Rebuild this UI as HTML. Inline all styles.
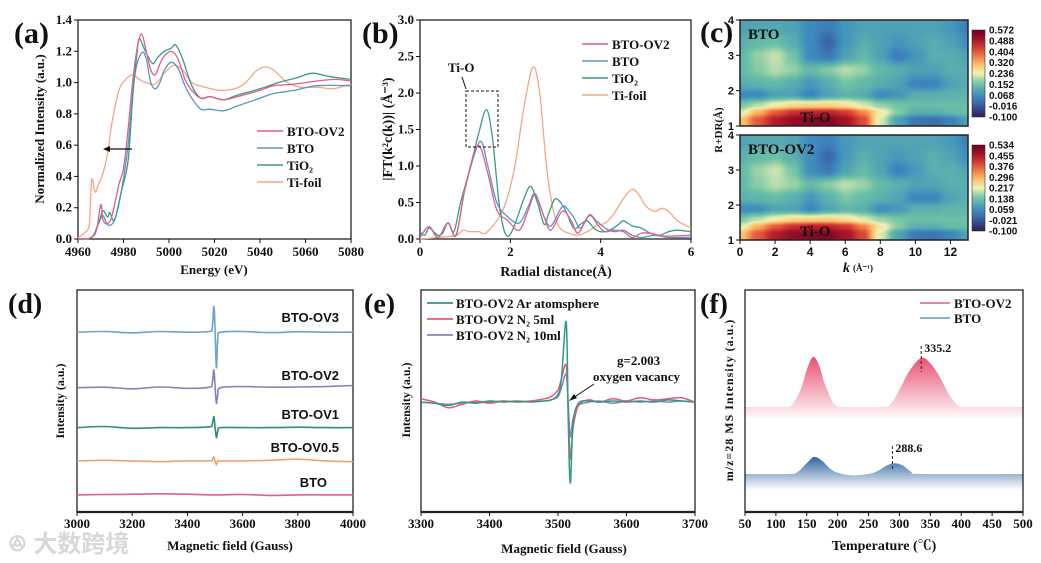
<!DOCTYPE html>
<html><head><meta charset="utf-8"><style>
html,body{margin:0;padding:0;background:#fff;}
#wrap{position:relative;width:1041px;height:563px;overflow:hidden;}
svg{position:absolute;left:0;top:0;}
canvas{position:absolute;}
text{font-family:"Liberation Serif","Noto Serif CJK SC",serif;font-weight:bold;fill:#111;}
</style></head><body>
<div id="wrap">
<svg id="s" width="1041" height="563"></svg>
<canvas id="hm1" width="228" height="106" style="left:740px;top:20px"></canvas>
<canvas id="hm2" width="228" height="105" style="left:740px;top:135px"></canvas>
<svg id="s2" width="1041" height="563"></svg>
</div>
<script>
// ---------- DATA ----------
// (a) XANES
const aOV2E=[4960,4965,4968,4970,4971,4973,4975,4978,4980,4982,4984,4986,4988,4990,4992,4994,4996,4998,5001,5004,5007,5010,5014,5018,5024,5030,5040,5046,5055,5065,5073,5080];
const aOV2V=[0,0.005,0.05,0.22,0.12,0.1,0.15,0.35,0.45,0.7,1.0,1.22,1.31,1.2,1.08,1.05,1.12,1.17,1.2,1.15,1.02,0.95,0.9,0.91,0.89,0.91,0.95,0.98,0.99,1.01,1.02,1.01];
const aBTOE=[4960,4966,4969,4971,4973,4976,4979,4982,4985,4988,4990,4992,4994,4996,4998,5001,5004,5007,5010,5014,5018,5024,5030,5040,5046,5055,5065,5080];
const aBTOV=[0,0.01,0.1,0.15,0.09,0.12,0.3,0.6,1.05,1.19,1.15,1.0,0.96,1.0,1.08,1.13,1.09,0.98,0.9,0.83,0.83,0.82,0.85,0.9,0.93,0.95,0.98,0.98];
const aTiO2E=[4960,4966,4969,4971,4973,4974,4976,4979,4982,4984,4986,4987,4989,4991,4993,4995,4998,5001,5003,5006,5010,5014,5018,5024,5030,5040,5048,5056,5063,5070,5080];
const aTiO2V=[0,0.01,0.1,0.18,0.14,0.17,0.12,0.3,0.5,0.9,1.2,1.28,1.22,1.16,1.12,1.16,1.2,1.22,1.24,1.15,0.98,0.9,0.91,0.89,0.92,0.96,1.0,1.03,1.06,1.04,1.02];
const aFoilE=[4960,4963,4965,4966,4967.5,4969,4971,4973,4975,4978,4981,4984,4987,4990,4994,4998,5002,5006,5010,5016,5024,5032,5038,5042,5046,5052,5058,5066,5072,5080];
const aFoilV=[0.01,0.04,0.1,0.38,0.3,0.35,0.42,0.55,0.75,0.95,1.02,1.05,1.02,1.0,0.99,1.06,1.11,1.08,1.0,0.97,0.95,0.98,1.07,1.1,1.08,1.0,0.97,0.97,0.96,0.99];
const aXTicks=[4960,4980,5000,5020,5040,5060,5080];
const aYTicks=[0,0.2,0.4,0.6,0.8,1.0,1.2,1.4];
// (b) FT-EXAFS
const bTiO2R=[0,0.1,0.2,0.3,0.4,0.5,0.62,0.75,0.9,1.1,1.3,1.47,1.6,1.75,1.87,1.98,2.1,2.3,2.45,2.6,2.75,2.85,3.0,3.2,3.4,3.55,3.7,3.85,4.0,4.2,4.4,4.5,4.7,4.9,5.1,5.3,5.5,5.7,6.0];
const bTiO2V=[0.1,0.05,0.15,0.1,0.05,0.08,0.22,0.1,0.5,0.95,1.45,1.77,1.4,0.5,0.1,0.05,0.2,0.55,0.72,0.5,0.2,0.35,0.55,0.42,0.15,0.2,0.25,0.15,0.1,0.12,0.2,0.25,0.18,0.15,0.08,0.05,0.1,0.12,0.1];
const bBTOR=[0,0.2,0.4,0.62,0.8,1.0,1.32,1.5,1.7,1.95,2.2,2.4,2.55,2.75,2.9,3.1,3.2,3.4,3.55,3.75,3.9,4.1,4.3,4.5,4.7,4.9,5.2,5.5,6];
const bBTOV=[0.02,0.17,0.02,0.22,0.05,0.7,1.33,1.0,0.5,0.3,0.22,0.45,0.62,0.3,0.18,0.4,0.45,0.3,0.15,0.33,0.25,0.15,0.1,0.12,0.05,0.02,0.05,0.02,0.02];
const bOV2R=[0,0.2,0.4,0.62,0.8,1.0,1.28,1.5,1.7,1.95,2.2,2.4,2.55,2.75,2.9,3.15,3.35,3.5,3.75,3.95,4.1,4.3,4.5,4.7,4.9,5.1,5.4,6];
const bOV2V=[0.02,0.17,0.02,0.22,0.05,0.7,1.28,0.9,0.4,0.25,0.12,0.4,0.6,0.3,0.12,0.38,0.25,0.08,0.32,0.18,0.1,0.12,0.1,0.02,0.08,0.08,0.04,0.05];
const bFoilR=[0,0.4,0.8,0.95,1.1,1.3,1.45,1.7,1.9,2.1,2.3,2.5,2.65,2.8,2.95,3.1,3.3,3.5,3.7,3.9,4.1,4.3,4.5,4.7,4.85,5.0,5.2,5.35,5.5,5.7,6.0];
const bFoilV=[0,0.02,0.05,0.12,0.1,0.1,0.08,0.25,0.5,1.0,1.8,2.35,2.0,1.0,0.4,0.15,0.08,0.05,0.1,0.18,0.22,0.35,0.55,0.68,0.6,0.45,0.38,0.42,0.38,0.25,0.15];
const bXTicks=[0,2,4,6];
const bYTicks=[0,0.5,1.0,1.5,2.0,2.5,3.0];
// (c) wavelet transform grid: rows R, cols k
const cR=[1.2,1.4,1.6,1.9,2.2,2.6,3.0,3.4,3.8];
const cK=[0,1,2,3,4,5,6,7,8,9,10,11,12,13];
const cGrid=[
[0.30,0.40,0.48,0.52,0.54,0.54,0.50,0.42,0.22,0.10,0.03,0.02,0.05,0.10],
[0.22,0.32,0.40,0.45,0.47,0.47,0.44,0.36,0.25,0.17,0.12,0.12,0.14,0.15],
[0.16,0.20,0.24,0.27,0.28,0.28,0.26,0.22,0.18,0.16,0.15,0.15,0.15,0.15],
[0.06,0.06,0.10,0.10,0.05,0.10,0.13,0.12,0.06,0.08,0.12,0.12,0.13,0.13],
[0.12,0.13,0.14,0.12,0.08,0.12,0.16,0.14,0.12,0.10,0.05,0.05,0.10,0.12],
[0.14,0.17,0.20,0.18,0.14,0.17,0.20,0.18,0.14,0.12,0.10,0.10,0.12,0.12],
[0.14,0.18,0.21,0.16,0.06,0.03,0.10,0.14,0.10,0.04,0.08,0.12,0.12,0.10],
[0.12,0.14,0.15,0.12,0.06,0.00,0.08,0.12,0.10,0.08,0.10,0.12,0.10,0.06],
[0.10,0.11,0.11,0.10,0.06,0.04,0.08,0.10,0.10,0.10,0.10,0.10,0.08,0.04]];
const cBar1=["0.572","0.488","0.404","0.320","0.236","0.152","0.068","-0.016","-0.100"];
const cBar2=["0.534","0.455","0.376","0.296","0.217","0.138","0.059","-0.021","-0.100"];
const cXTicks=[0,2,4,6,8,10,12];
const cYTicks=[1,2,3,4];
// (d) EPR: field samples and signal per sample
const dField=[3000,3100,3200,3300,3400,3480,3490,3496,3500,3505,3510,3520,3600,3700,3800,3900,4000];
const dNames=["BTO-OV3","BTO-OV2","BTO-OV1","BTO-OV0.5","BTO"];
const dBase=[81,56,38,23,7.7];
const dOV3=[0,0.3,-0.3,0.3,0,0.3,2,11.7,2,-16,-3,0,0.3,-0.2,0.2,0,0];
const dOV2=[0,0.2,-0.5,0.3,-0.3,0.2,2,8,1,-7,-3,0,0.5,0.2,0.3,0.5,1];
const dOV1=[0,0.5,-0.3,0,0,0.4,1.5,5,0.5,-4.5,-1.5,0,0,0,0.2,0,0];
const dOV05=[0,0.3,0,-0.3,0,0,0.5,1.8,0,-1.8,0,0,0,0.3,0.8,0,-0.3];
const dBTO=[0,0.2,0.3,0.5,0.3,0,0,0,0,0,0,0,0.2,-0.2,0,0,0];
const dXTicks=[3000,3200,3400,3600,3800,4000];
// (e) EPR conditions
const eField=[3300,3320,3340,3360,3380,3400,3420,3440,3460,3480,3490,3500,3505,3512,3515,3518,3522,3530,3545,3560,3580,3600,3620,3640,3660,3680,3700];
const eAr=[49.5,49,48,49.5,49,50,49.5,50,49.5,50,50.5,53,60,85.6,40,13,40,49,50,49.5,50,49.5,50,49.5,50.5,50,49.5];
const eN5=[51,49.5,47,48.5,50,49,50,49.5,50,51,52,55,60,66,45,24,38,48,50.5,49.5,51,50,51.5,50.5,51,51.5,49.5];
const eN10=[49.5,49,48.5,49,49.5,49.5,50,49.5,50,50,50.5,52,56,62,48,34,42,48,49.5,50,49,50,49.5,50,49.5,50,49.5];
const eXTicks=[3300,3400,3500,3600,3700];
// (f) TPD
const fOV2T=[50,110,125,140,150,160,170,180,195,210,270,285,300,315,335,350,365,380,395,410,500];
const fOV2V=[47.3,47.3,48,55,64,69.8,66,57,48.5,47.3,47.3,48.5,55,63,69.4,67,61,53,48,47.3,47.3];
const fBTOT=[50,120,135,150,162,175,190,205,225,250,265,280,292,305,320,335,500];
const fBTOV=[17.1,17.1,18,22,24.8,23,19,17.3,16.5,17.1,18.5,21,22,21,18,17.1,17.1];
const fXTicks=[50,100,150,200,250,300,350,400,450,500];
const fPeaks=[335.2,288.6];

// ---------- HELPERS ----------
const NS='http://www.w3.org/2000/svg';
const S=document.getElementById('s');
const S2=document.getElementById('s2');
function mk(tag,parent){const e=document.createElementNS(NS,tag);(parent||S).appendChild(e);return e;}
function lin(d0,d1,r0,r1){return v=>r0+(v-d0)/(d1-d0)*(r1-r0);}
function pathSmooth(xs,ys,X,Y){
  const p=xs.map((x,i)=>[X(x),Y(ys[i])]);
  let d='M'+p[0][0].toFixed(1)+','+p[0][1].toFixed(1);
  for(let i=0;i<p.length-1;i++){
    const p0=p[Math.max(0,i-1)],p1=p[i],p2=p[i+1],p3=p[Math.min(p.length-1,i+2)];
    const c1=[p1[0]+(p2[0]-p0[0])/6,p1[1]+(p2[1]-p0[1])/6];
    const c2=[p2[0]-(p3[0]-p1[0])/6,p2[1]-(p3[1]-p1[1])/6];
    d+='C'+c1[0].toFixed(1)+','+c1[1].toFixed(1)+' '+c2[0].toFixed(1)+','+c2[1].toFixed(1)+' '+p2[0].toFixed(1)+','+p2[1].toFixed(1);
  }
  return d;
}
function txt(parent,x,y,s,size,anchor,name){
  const t=mk('text',parent);t.setAttribute('x',x);t.setAttribute('y',y);
  t.setAttribute('font-size',size);t.setAttribute('text-anchor',anchor||'start');t.textContent=s;
  
  
  return t;
}
function line(parent,x1,y1,x2,y2,w,col,dash){
  const l=mk('line',parent);l.setAttribute('x1',x1);l.setAttribute('y1',y1);l.setAttribute('x2',x2);l.setAttribute('y2',y2);
  l.setAttribute('stroke',col||'#111');l.setAttribute('stroke-width',w||1);if(dash)l.setAttribute('stroke-dasharray',dash);return l;
}
function frame(parent,x0,y0,x1,y1,w){
  const r=mk('rect',parent);r.setAttribute('x',x0);r.setAttribute('y',y0);r.setAttribute('width',x1-x0);r.setAttribute('height',y1-y0);
  r.setAttribute('fill','none');r.setAttribute('stroke','#222');r.setAttribute('stroke-width',w||1.3);
  
  
}
function series(parent,xs,ys,X,Y,col,w,name){
  const p=mk('path',parent);p.setAttribute('d',pathSmooth(xs,ys,X,Y));p.setAttribute('fill','none');
  p.setAttribute('stroke',col);p.setAttribute('stroke-width',w||1.3);
  
  
  return p;
}
function group(name){const g=mk('g');
  
  
  return g;}

// ---------- PANEL A ----------
(function(){
const g=group('panel-a');
const X=lin(4960,5080,78,351),Y=lin(0,1.4,239,20);
frame(g,78,20,351,239);
aXTicks.forEach(v=>{line(g,X(v),239,X(v),243);txt(g,X(v),256,String(v),13,'middle','x-tick-label');});
aYTicks.forEach(v=>{line(g,74,Y(v),78,Y(v));txt(g,72,Y(v)+4,v.toFixed(1),13,'end','y-tick-label');});
txt(g,214,274,'Energy (eV)',13,'middle','x-axis-title');
const yt=txt(g,0,0,'Normalized Intensity (a.u.)',13,'middle','y-axis-title');yt.setAttribute('transform','translate(44,129) rotate(-90)');
txt(g,14,43,'(a)',30,'start','panel-label-a');
series(g,aFoilE,aFoilV,X,Y,'#f3a783',1.3,'series-ti-foil');
series(g,aBTOE,aBTOV,X,Y,'#5b95c6',1.3,'series-bto');
series(g,aTiO2E,aTiO2V,X,Y,'#3a9a8c',1.3,'series-tio2');
series(g,aOV2E,aOV2V,X,Y,'#df5f86',1.3,'series-bto-ov2');
const lg=[['BTO-OV2','#df5f86'],['BTO','#5b95c6'],['TiO₂','#3a9a8c'],['Ti-foil','#f3a783']];
lg.forEach((e,i)=>{const y=131+i*17;line(g,257,y,283,y,1.5,e[1]);txt(g,287,y+5,e[0],13,'start','legend-entry');});
line(g,132,149,108,149,1.2,'#111');
const ah=mk('path',g);ah.setAttribute('d','M103,149 L110,146 L110,152 Z');ah.setAttribute('fill','#111');


})();

// ---------- PANEL B ----------
(function(){
const g=group('panel-b');
const X=lin(0,6,420,691),Y=lin(0,3,239,20);
frame(g,420,20,691,239);
bXTicks.forEach(v=>{line(g,X(v),239,X(v),243);txt(g,X(v),256,String(v),13,'middle','x-tick-label');});
bYTicks.forEach(v=>{line(g,416,Y(v),420,Y(v));txt(g,414,Y(v)+4,v.toFixed(1),13,'end','y-tick-label');});
txt(g,556,276,'Radial distance(Å)',14,'middle','x-axis-title');
const yt=txt(g,0,0,'|FT(k²c(k))| (Å⁻³)',14,'middle','y-axis-title');yt.setAttribute('transform','translate(392,129) rotate(-90)');
txt(g,362,43,'(b)',30,'start','panel-label-b');
series(g,bFoilR,bFoilV,X,Y,'#f3a783',1.3,'series-ti-foil');
series(g,bTiO2R,bTiO2V,X,Y,'#3a9a8c',1.3,'series-tio2');
series(g,bBTOR,bBTOV,X,Y,'#5b95c6',1.3,'series-bto');
series(g,bOV2R,bOV2V,X,Y,'#df5f86',1.3,'series-bto-ov2');
const lg=[['BTO-OV2','#df5f86'],['BTO','#5b95c6'],['TiO₂','#3a9a8c'],['Ti-foil','#f3a783']];
lg.forEach((e,i)=>{const y=44+i*17;line(g,582,y,608,y,1.5,e[1]);txt(g,612,y+5,e[0],13,'start','legend-entry');});
const r=mk('rect',g);r.setAttribute('x',466);r.setAttribute('y',91);r.setAttribute('width',32);r.setAttribute('height',56);
r.setAttribute('fill','none');r.setAttribute('stroke','#111');r.setAttribute('stroke-dasharray','3,2');


txt(g,448,72,'Ti-O',13,'start','ti-o-label');
line(g,462,77,466,89,1,'#111');
})();

// ---------- PANEL C ----------
function cmap(t){
  const st=[[0,[45,30,80]],[0.13,[60,90,166]],[0.25,[63,143,191]],[0.38,[108,193,165]],[0.5,[240,242,178]],[0.62,[253,184,99]],[0.75,[230,85,58]],[0.87,[178,24,43]],[1,[103,0,31]]];
  t=Math.max(0,Math.min(1,t));
  for(let i=0;i<st.length-1;i++){if(t<=st[i+1][0]){const f=(t-st[i][0])/(st[i+1][0]-st[i][0]);return st[i][1].map((c,j)=>Math.round(c+f*(st[i+1][1][j]-c)));}}
  return st[st.length-1][1];
}
function sampleGrid(k,R){
  const sm=f=>f*f*(3-2*f);
  let ri=0;if(R<=cR[0]){ri=0;R=cR[0];}else if(R>=cR[cR.length-1]){ri=cR.length-2;R=cR[cR.length-1];}else{while(cR[ri+1]<R)ri++;}
  let ki=Math.min(cK.length-2,Math.floor(k));const fr=sm((R-cR[ri])/(cR[ri+1]-cR[ri]));const fk=sm(Math.min(1,Math.max(0,(k-cK[ki])/(cK[ki+1]-cK[ki]))));
  const a=cGrid[ri][ki],b=cGrid[ri][ki+1],c=cGrid[ri+1][ki],d=cGrid[ri+1][ki+1];
  return (a*(1-fk)+b*fk)*(1-fr)+(c*(1-fk)+d*fk)*fr;
}
function drawMap(id,vmax){
  const cv=document.getElementById(id),ctx=cv.getContext('2d');const W=cv.width,H=cv.height;
  const img=ctx.createImageData(W,H);
  for(let y=0;y<H;y++)for(let x=0;x<W;x++){
    const k=x/W*13,R=4-y/H*3;const v=sampleGrid(k,R)*vmax/0.572;
    const c=cmap((v+0.1)/(vmax+0.1));const o=(y*W+x)*4;img.data[o]=c[0];img.data[o+1]=c[1];img.data[o+2]=c[2];img.data[o+3]=255;
  }
  ctx.putImageData(img,0,0);
}
drawMap('hm1',0.572);drawMap('hm2',0.534);
(function(){
const g=document.createElementNS(NS,'g');S2.appendChild(g);


const X=lin(0,13,740,968);
[[20,126],[135,240]].forEach((b,bi)=>{
  const Y=lin(1,4,b[1],b[0]);
  frame(g,740,b[0],968,b[1],1.5);
  cYTicks.forEach(v=>{line(g,736,Y(v),740,Y(v));txt(g,734,Y(v)+4,String(v),11,'end','y-tick-label').setAttribute('style','font-family:"Liberation Sans",sans-serif');});
  txt(g,748,b[0]+19,bi?'BTO-OV2':'BTO',15,'start','map-title').setAttribute('fill','#f4f4f4');
  txt(g,800,b[1]-4,'Ti-O',15,'start','ti-o-label');
  const gid='cg'+bi;const defs=mk('defs',g);const lgd=mk('linearGradient',defs);lgd.setAttribute('id',gid);lgd.setAttribute('x1',0);lgd.setAttribute('y1',1);lgd.setAttribute('x2',0);lgd.setAttribute('y2',0);
  for(let i=0;i<=10;i++){const s=mk('stop',lgd);s.setAttribute('offset',i/10);const c=cmap(i/10);s.setAttribute('stop-color','rgb('+c.join(',')+')');}
  const cy0=b[0]+10,cy1=b[1]-9;
  const cb=mk('rect',g);cb.setAttribute('x',972);cb.setAttribute('y',cy0);cb.setAttribute('width',13);cb.setAttribute('height',cy1-cy0);cb.setAttribute('fill','url(#'+gid+')');cb.setAttribute('stroke','#333');cb.setAttribute('stroke-width',0.6);
  
  
  const labs=bi?cBar2:cBar1;
  labs.forEach((l,i)=>{const y=cy0+i*(cy1-cy0)/(labs.length-1);txt(g,989,y+3.5,l,10,'start','colorbar-label').setAttribute('style','font-family:"Liberation Sans",sans-serif');});
});
cXTicks.forEach(v=>{line(g,X(v),240,X(v),244);txt(g,X(v),256,String(v),12,'middle','x-tick-label').setAttribute('style','font-family:"Liberation Sans",sans-serif');});
txt(g,850,272,'k',14,'end','x-axis-title').setAttribute('font-style','italic');
txt(g,853,271,'(Å⁻¹)',9,'start','x-axis-unit');
const yt=txt(g,0,0,'R+DR(Å)',11,'middle','y-axis-title');yt.setAttribute('transform','translate(722,130) rotate(-90)');
txt(g,700,42,'(c)',30,'start','panel-label-c');
})();

// ---------- PANEL D ----------
(function(){
const g=group('panel-d');
const X=lin(3000,4000,77,353),Y=lin(0,100,512,290);
frame(g,77,290,353,512);line(g,77,512,353,512,2.2,'#222');
dXTicks.forEach(v=>{line(g,X(v),512,X(v),516);txt(g,X(v),528,String(v),13,'middle','x-tick-label');});
txt(g,230,550,'Magnetic field (Gauss)',13,'middle','x-axis-title');
const yt=txt(g,0,0,'Intensity (a.u.)',12,'middle','y-axis-title');yt.setAttribute('transform','translate(64,401) rotate(-90)');
txt(g,8,313,'(d)',28,'start','panel-label-d');
const sets=[dOV3,dOV2,dOV1,dOV05,dBTO],cols=['#6aa3cf','#8a80bf','#2e8c7c','#f0a070','#e06080'];
const labY=[322,380,419,452,487],labX=[339,339,339,339,327];
sets.forEach((s,i)=>{const vals=s.map(v=>v+dBase[i]);
  const p=mk('path',g);p.setAttribute('d',pathSmooth(dField,vals,X,Y));p.setAttribute('fill','none');p.setAttribute('stroke',cols[i]);p.setAttribute('stroke-width',1.6);
  
  
  txt(g,labX[i],labY[i],dNames[i],13,'end','trace-label').setAttribute('style','font-family:"Liberation Sans",sans-serif');
});
})();

// ---------- PANEL E ----------
(function(){
const g=group('panel-e');
const X=lin(3300,3700,421,695),Y=lin(0,100,512,290);
frame(g,421,290,695,512);line(g,421,512,695,512,2.2,'#222');
eXTicks.forEach(v=>{line(g,X(v),512,X(v),516);txt(g,X(v),528,String(v),13,'middle','x-tick-label');});
txt(g,564,553,'Magnetic field (Gauss)',13,'middle','x-axis-title');
const yt=txt(g,0,0,'Intensity (a.u.)',12,'middle','y-axis-title');yt.setAttribute('transform','translate(410,400) rotate(-90)');
txt(g,364,313,'(e)',28,'start','panel-label-e');
series(g,eField,eN10,X,Y,'#8a80bf',1.5,'series-n2-10ml');
series(g,eField,eN5,X,Y,'#e85a7a',1.5,'series-n2-5ml');
series(g,eField,eAr,X,Y,'#2f9a88',1.5,'series-ar');
const lg=[['BTO-OV2 Ar atomsphere','#2f9a88'],['BTO-OV2 N₂ 5ml','#e85a7a'],['BTO-OV2 N₂ 10ml','#8a80bf']];
lg.forEach((e,i)=>{const y=303+i*16;line(g,427,y,453,y,1.8,e[1]);txt(g,456,y+5,e[0],13,'start','legend-entry');});
txt(g,617,365,'g=2.003',13,'start','g-value-label');
txt(g,593,381,'oxygen vacancy',13,'start','oxygen-vacancy-label');
line(g,594,384,573,398,1,'#111');
const ah=mk('path',g);ah.setAttribute('d','M569,401 L574,394 L577,398 Z');ah.setAttribute('fill','#111');


})();

// ---------- PANEL F ----------
(function(){
const g=group('panel-f');
const X=lin(50,500,745,1023),Y=lin(0,100,512,290);
const defs=mk('defs',g);
[['gp','#e8506f'],['gb','#2f64a0']].forEach(c=>{const lg=mk('linearGradient',defs);lg.setAttribute('id',c[0]);lg.setAttribute('x1',0);lg.setAttribute('y1',0);lg.setAttribute('x2',0);lg.setAttribute('y2',1);
 const a=mk('stop',lg);a.setAttribute('offset',0);a.setAttribute('stop-color',c[1]);
 const b=mk('stop',lg);b.setAttribute('offset',1);b.setAttribute('stop-color','#fff');});
function area(T,V,fill,bottom,name){
  const p=mk('path',g);p.setAttribute('d',pathSmooth(T,V,X,Y)+'L'+X(T[T.length-1])+','+bottom+'L'+X(T[0])+','+bottom+'Z');
  p.setAttribute('fill',fill);
  
  
}
area(fOV2T,fOV2V,'url(#gp)',420,'area-bto-ov2');
area(fBTOT,fBTOV,'url(#gb)',490,'area-bto');
frame(g,745,290,1023,512);line(g,745,512,1023,512,2.2,'#222');
fXTicks.forEach(v=>{line(g,X(v),512,X(v),516);txt(g,X(v),528,String(v),13,'middle','x-tick-label');});
txt(g,884,550,'Temperature (℃)',14,'middle','x-axis-title');
const yt=txt(g,0,0,'m/z=28 MS Intensity (a.u.)',12,'middle','y-axis-title');yt.setAttribute('transform','translate(733,400) rotate(-90)');
yt.setAttribute('letter-spacing','1');
txt(g,700,313,'(f)',28,'start','panel-label-f');
const lg=[['BTO-OV2','#df5f86'],['BTO','#5b95c6']];
lg.forEach((e,i)=>{const y=303+i*15;line(g,920,y,950,y,1.5,e[1]);txt(g,954,y+5,e[0],13,'start','legend-entry');});
line(g,X(fPeaks[0]),346,X(fPeaks[0]),372,1,'#222','3,2');txt(g,X(fPeaks[0])+3,352,String(fPeaks[0]),12,'start','peak-label');
line(g,X(fPeaks[1]),446,X(fPeaks[1]),470,1,'#222','3,2');txt(g,X(fPeaks[1])+3,452,String(fPeaks[1]),12,'start','peak-label');
})();

// watermark
(function(){const t=txt(S2,8,552,'ꔮ 大数跨境',24,'start','watermark');t.setAttribute('fill','#d8d8d8');t.setAttribute('style','fill:#d8d8d8;font-family:"Liberation Sans","Noto Sans CJK SC",sans-serif');})();
</script>
</body></html>
